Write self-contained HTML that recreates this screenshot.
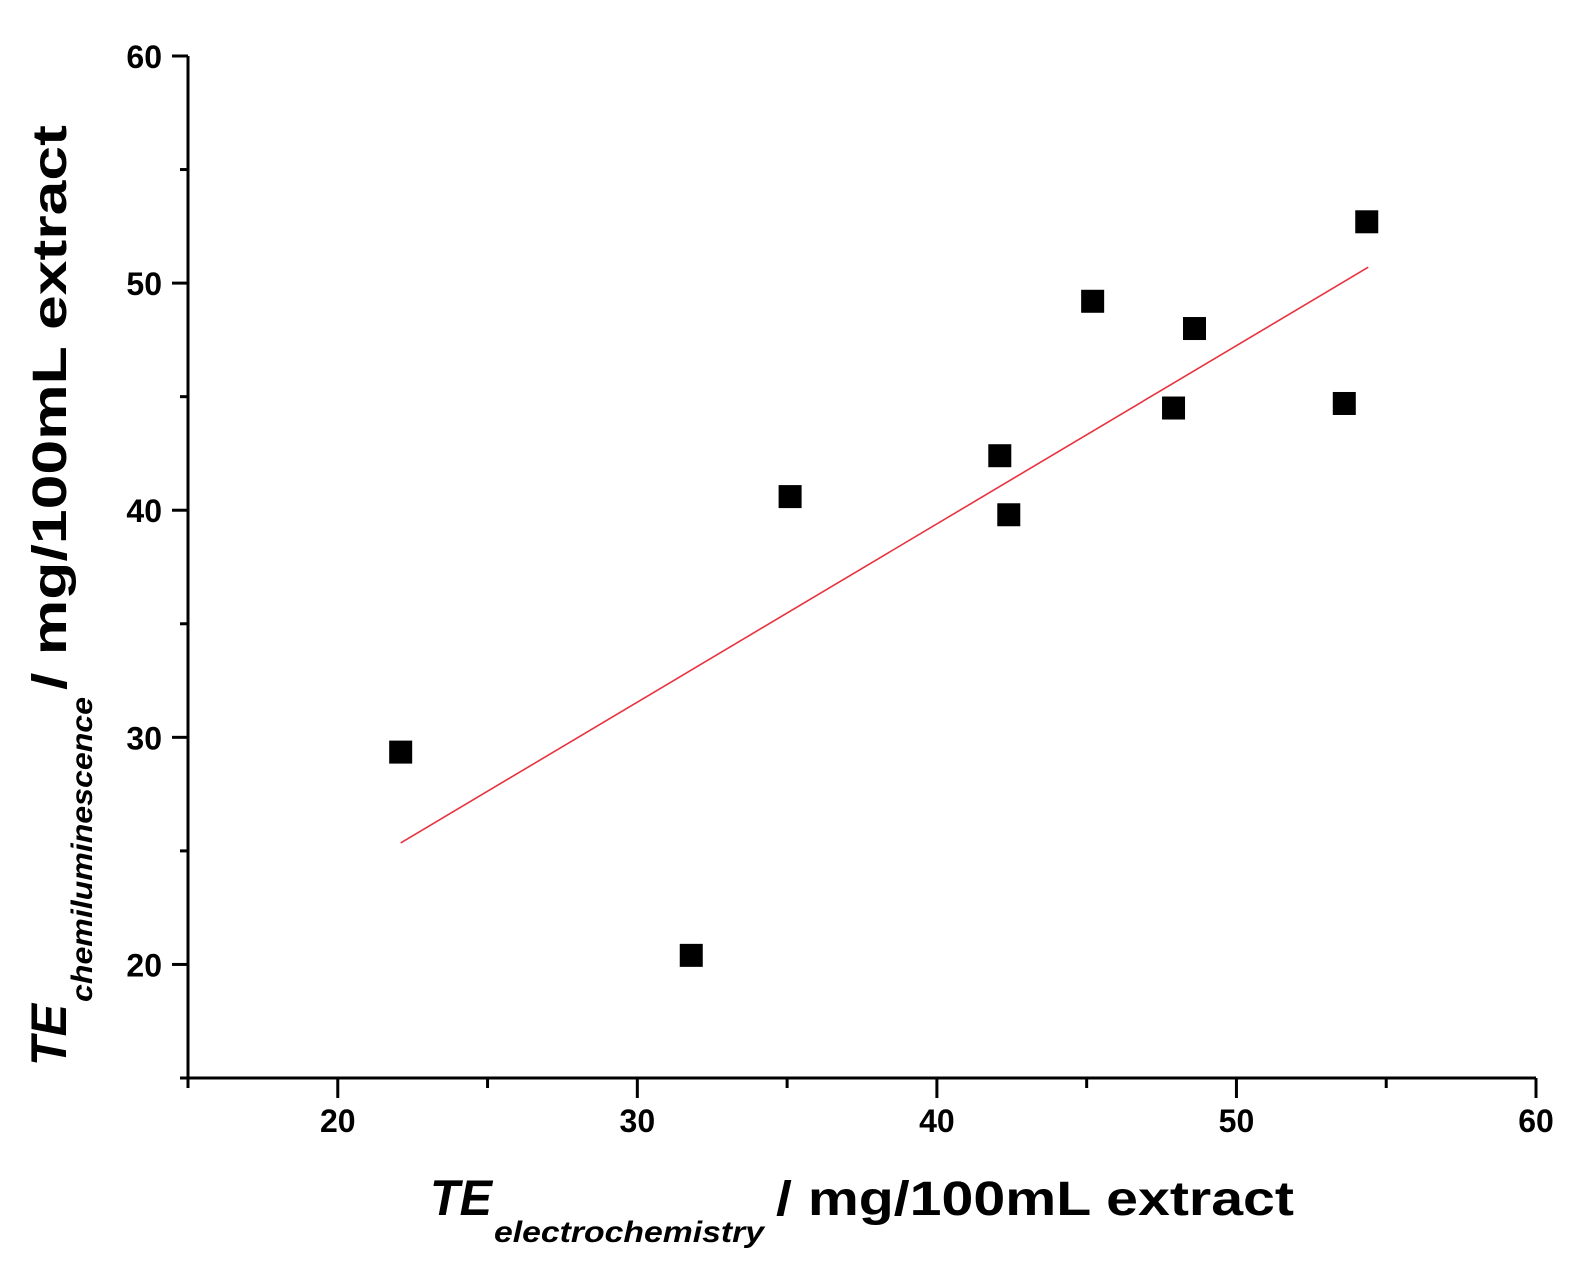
<!DOCTYPE html>
<html><head><meta charset="utf-8"><style>html,body{margin:0;padding:0;background:#fff}svg{display:block}</style></head>
<body>
<svg id="chart" width="1584" height="1279" viewBox="0 0 1584 1279" xmlns="http://www.w3.org/2000/svg" font-family="'Liberation Sans Narrow','Liberation Sans',sans-serif">
<g id="axes"></g>
<g id="marks"></g>
<text x="430" y="1215" font-size="50" font-weight="bold" font-style="italic" textLength="62" lengthAdjust="spacingAndGlyphs">TE</text>
<text x="494" y="1242" font-size="30" font-weight="bold" font-style="italic" textLength="270" lengthAdjust="spacingAndGlyphs">electrochemistry</text>
<text x="776" y="1215" font-size="48" font-weight="bold" textLength="518" lengthAdjust="spacingAndGlyphs">/ mg/100mL extract</text>
<g transform="rotate(-90)">
<text x="-1066" y="66" font-size="50" font-weight="bold" font-style="italic" textLength="62" lengthAdjust="spacingAndGlyphs">TE</text>
<text x="-1002" y="92" font-size="30" font-weight="bold" font-style="italic" textLength="305" lengthAdjust="spacingAndGlyphs">chemiluminescence</text>
<text x="-690" y="66" font-size="48" font-weight="bold" textLength="565" lengthAdjust="spacingAndGlyphs">/ mg/100mL extract</text>
</g>
</svg>
<script>
const xVals = [22.1, 31.8, 35.1, 42.1, 42.4, 45.2, 48.6, 47.9, 53.6, 54.35];
const yVals = [29.35, 20.4, 40.6, 42.4, 39.8, 49.2, 48.0, 44.5, 44.7, 52.7];
const xTicks = [20, 30, 40, 50, 60];
const yTicks = [20, 30, 40, 50, 60];
const fitX = [22.1, 54.4];
const fitY = [25.35, 50.7];

const NS = 'http://www.w3.org/2000/svg';
const X0 = 188, X1 = 1536, Y0 = 1078, Y1 = 56;
function sx(v){ return X0 + (v - 15) / 45 * (X1 - X0); }
function sy(v){ return Y0 - (v - 15) / 45 * (Y0 - Y1); }
function mk(tag, attrs, parent){ const e = document.createElementNS(NS, tag); for (const k in attrs) e.setAttribute(k, attrs[k]); parent.appendChild(e); return e; }
const axes = document.getElementById('axes');
const marks = document.getElementById('marks');

let l = mk('line', {x1:X0, y1:Y0, x2:X1, y2:Y0, stroke:'#000', 'stroke-width':3}, axes);


l = mk('line', {x1:X0, y1:Y0+1, x2:X0, y2:Y1, stroke:'#000', 'stroke-width':3}, axes);



for (let v = 15; v <= 60; v += 5) {
  const major = v % 10 === 0;
  let t = mk('line', {x1:sx(v), y1:Y0, x2:sx(v), y2:Y0 + (major ? 20 : 10), stroke:'#000', 'stroke-width':3}, axes);
  
  
  t = mk('line', {x1:X0, y1:sy(v), x2:X0 - (major ? 16 : 8), y2:sy(v), stroke:'#000', 'stroke-width':3}, axes);
  
  
}
xTicks.forEach(v => {
  const t = mk('text', {x:sx(v), y:Y0 + 54, 'text-anchor':'middle', 'font-size':32, 'font-weight':'bold', 'font-family':'Liberation Sans, sans-serif'}, axes);
  t.textContent = v;
  
  
});
yTicks.forEach(v => {
  const t = mk('text', {x:X0 - 26, y:sy(v) + 12, 'text-anchor':'end', 'font-size':32, 'font-weight':'bold', 'font-family':'Liberation Sans, sans-serif'}, axes);
  t.textContent = v;
  
  
});
const fit = mk('line', {x1:sx(fitX[0]), y1:sy(fitY[0]), x2:sx(fitX[1]), y2:sy(fitY[1]), stroke:'#e8333f', 'stroke-width':1.6}, marks);


xVals.forEach((xv, i) => {
  const s = 23;
  const r = mk('rect', {x:sx(xv) - s/2, y:sy(yVals[i]) - s/2, width:s, height:s, fill:'#000'}, marks);
  
  
});
</script>
</body></html>
